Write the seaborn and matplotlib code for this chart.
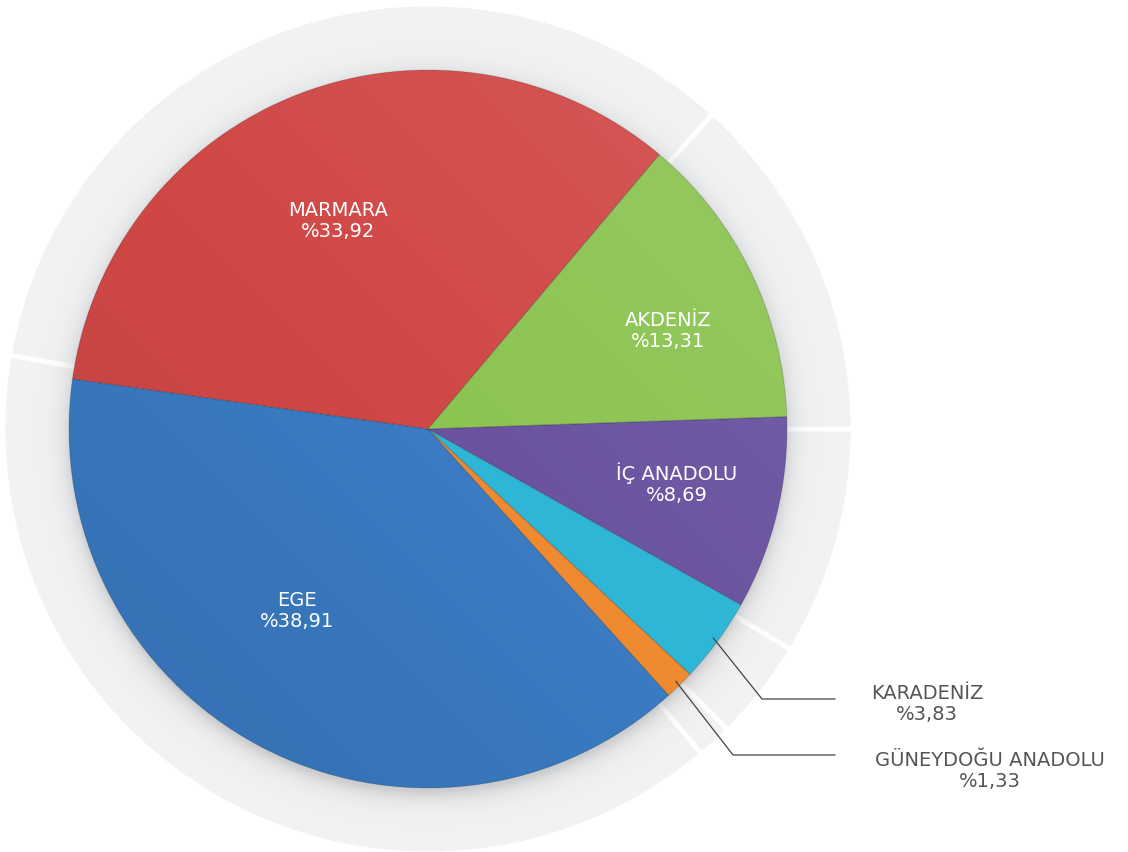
import numpy as np
import matplotlib
matplotlib.use("Agg")
import matplotlib.pyplot as plt
import seaborn as sns
from matplotlib.patches import Circle, Wedge

# ---- data ----
regions = ["MARMARA", "AKDENİZ", "İÇ ANADOLU", "KARADENİZ", "GÜNEYDOĞU ANADOLU", "EGE"]
shares = [33.92, 13.31, 8.69, 3.83, 1.33, 38.91]
share_labels = ["%33,92", "%13,31", "%8,69", "%3,83", "%1,33", "%38,91"]
colors = ["#d04846", "#8cc452", "#6a52a0", "#2db6d6", "#f08a30", "#3a7bc2"]

sns.set_theme(style="white")
plt.rcParams['font.family'] = ['DejaVu Sans']

W, H = 1128, 852
fig = plt.figure(figsize=(W / 100, H / 100), dpi=100)
ax = fig.add_axes([0, 0, 1, 1])

cx, cy = 428, H - 429
R = 359
R_ring = 425

# outer ring segments
ax.pie(shares, startangle=170, counterclock=False, radius=R_ring, center=(cx, cy),
       colors=["#f1f2f4"] * len(shares),
       wedgeprops=dict(width=R_ring - R + 5, edgecolor="white", linewidth=3.5))

# soft shadow around the pie (slightly stronger below)
n = 600
xs = np.linspace(cx - 430, cx + 430, n)
ys = np.linspace(cy - 430, cy + 430, n)
XX, YY = np.meshgrid(xs, ys)
rr = np.hypot(XX - cx, YY - cy)
dr = np.hypot(XX - cx, YY - (cy - 6))
alpha = np.where(rr >= R - 2, 0.24 * np.exp(-np.clip(dr - R + 2, 0, None) / 10.0), 0.0)
alpha = np.where(rr > R_ring, 0.0, alpha)
shadow = np.zeros((n, n, 4))
shadow[..., :3] = 0.35
shadow[..., 3] = alpha
ax.imshow(shadow, extent=(xs[0], xs[-1], ys[0], ys[-1]), origin="lower", zorder=1.5,
          interpolation="bilinear")

wedges, _ = ax.pie(shares, startangle=172, counterclock=False, radius=R, center=(cx, cy),
                   colors=colors, wedgeprops=dict(edgecolor="none", linewidth=0))
for w in wedges:
    w.set_zorder(2)

# gentle lighting gradient over the pie
g = np.linspace(0, 1, n)
GX, GY = np.meshgrid(g, g)
t = (GX + GY) / 2.0  # 0 bottom-left, 1 top-right
grad = np.zeros((n, n, 4))
grad[..., :3] = np.where(t[..., None] > 0.5, 1.0, 0.0)
grad[..., 3] = np.abs(t - 0.5) * 0.2
im = ax.imshow(grad, extent=(cx - R, cx + R, cy - R, cy + R), origin="lower", zorder=2.5,
               interpolation="bilinear")
im.set_clip_path(Circle((cx, cy), R, transform=ax.transData))

# thin darker edges
for w in wedges:
    ax.add_patch(Wedge(w.center, w.r, w.theta1, w.theta2, facecolor="none",
                       edgecolor=(0, 0, 0, 0.14), linewidth=0.8, zorder=2.6))

FS = 14
# inside labels
inner_pos = {0: (338, 221), 1: (668, 331), 2: (677, 484), 5: (297, 611)}
for i, (px, py) in inner_pos.items():
    ax.text(px, H - py, f"{regions[i]}\n{share_labels[i]}", ha="center", va="center",
            color="white", fontsize=FS, linespacing=1.15, zorder=5)

# outside labels with leader lines
outer = {3: ((762, 699), (835, 699), (927, 704)),
         4: ((733, 755), (835, 755), (990, 771))}
for i, (elbow, end, tpos) in outer.items():
    w = wedges[i]
    mid = np.deg2rad((w.theta1 + w.theta2) / 2)
    sx, sy = cx + 0.985 * R * np.cos(mid), cy + 0.985 * R * np.sin(mid)
    ax.plot([sx, elbow[0], end[0]], [sy, H - elbow[1], H - end[1]], color="#444444",
            linewidth=0.9, zorder=6)
    ax.text(tpos[0], H - tpos[1], f"{regions[i]}\n{share_labels[i]}", ha="center", va="center",
            color="#555555", fontsize=FS, linespacing=1.15, zorder=5)

ax.set_xlim(0, W)
ax.set_ylim(0, H)
ax.set_aspect("equal")
ax.axis("off")
fig.savefig("out.png", dpi=100, facecolor="white")
